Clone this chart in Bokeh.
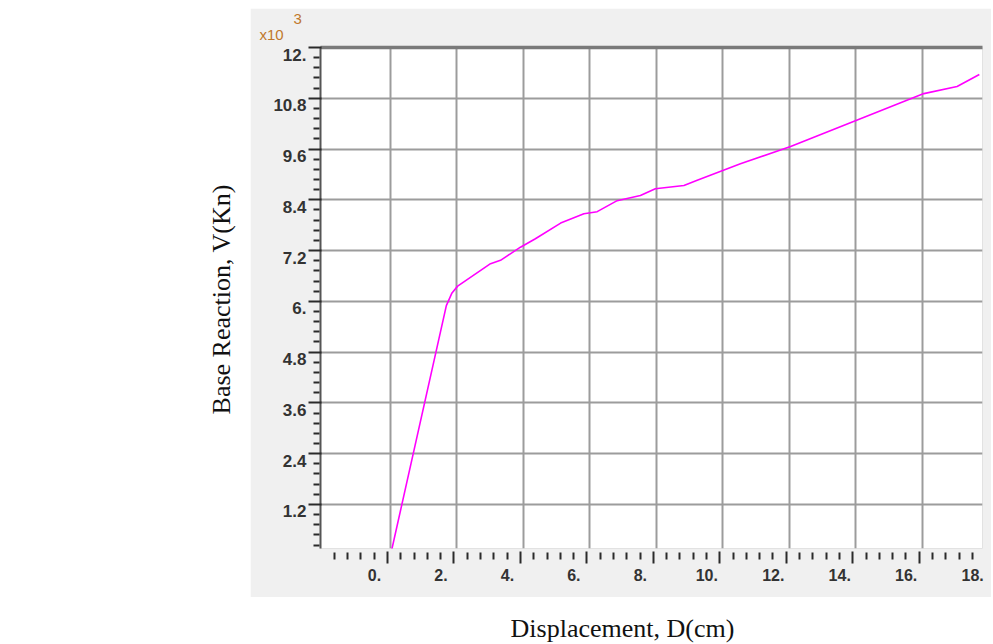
import math
from bokeh.plotting import figure
from bokeh.models import (Range1d, LinearAxis, FixedTicker, CustomJSTickFormatter,
                          Label, Grid, Title, Spacer)
from bokeh.layouts import row, column
from bokeh.embed import file_html
from bokeh.resources import INLINE

# ---------------- data ----------------
disp_cm = [0.0, 1.68, 1.85, 2.02, 3.01, 3.31, 3.91, 4.36, 5.12, 5.82, 6.22,
           6.82, 7.52, 7.97, 8.83, 9.23, 10.53, 12.04, 13.99, 16.05, 17.05, 17.72]
base_kn_x1e3 = [0.0, 5.90, 6.20, 6.36, 6.89, 6.97, 7.28, 7.48, 7.85, 8.07, 8.12,
                8.38, 8.50, 8.66, 8.74, 8.86, 9.25, 9.66, 10.27, 10.91, 11.08, 11.36]

x_ticks = [0, 2, 4, 6, 8, 10, 12, 14, 16, 18]
x_tick_labels = ["0.", "2.", "4.", "6.", "8.", "10.", "12.", "14.", "16.", "18."]
y_ticks = [1.2, 2.4, 3.6, 4.8, 6.0, 7.2, 8.4, 9.6, 10.8, 12.0]
y_tick_labels = ["1.2", "2.4", "3.6", "4.8", "6.", "7.2", "8.4", "9.6", "10.8", "12."]

x_title = "Displacement, D(cm)"
y_title = "Base Reaction, V(Kn)"
scale_text = "x10"
scale_exp = "3"

X_START, X_END = -2.107, 17.815
Y_START, Y_END = 0.159, 12.0
PX_PER_X = 33.23
PX_PER_Y = 42.31

x_minor = [round(m * 0.4, 2) for m in range(-4, 45) if m % 5 != 0]
y_minor = [round(k * 0.24, 2) for k in range(1, 50) if k % 5 != 0]

PANEL = "#f0f0f0"
GRID = "#9c9c9c"
TICK = "#2a2a2a"
LABEL_COL = "#333333"
SCALE_COL = "#c0782c"
SANS = "Liberation Sans"
SERIF = "Liberation Serif"

def fmt(tv, tl):
    return CustomJSTickFormatter(
        args=dict(tvals=tv, tlabs=tl),
        code="const i = tvals.findIndex(t => Math.abs(t - tick) < 1e-9);"
             "return i >= 0 ? tlabs[i] : '';")

def blank():
    return CustomJSTickFormatter(code="return '';")

# ---------------- main plot (grey panel) ----------------
p = figure(width=741, height=589,
           x_range=Range1d(X_START, X_END), y_range=Range1d(Y_START, Y_END),
           x_axis_type=None, y_axis_type=None,
           toolbar_location=None, output_backend="svg",
           min_border_left=70, min_border_right=9,
           min_border_top=39, min_border_bottom=49,
           background_fill_color="white", border_fill_color=PANEL,
           outline_line_color="#e2e2e2", outline_line_width=1)

d_tick = 3 / PX_PER_X
d_lab = 16 / PX_PER_X
d_ylab = 7 / PX_PER_Y
p.extra_x_ranges = {"xt": Range1d(X_START + d_tick, X_END + d_tick),
                    "xl": Range1d(X_START + d_lab, X_END + d_lab)}
p.extra_y_ranges = {"yl": Range1d(Y_START + d_ylab, Y_END + d_ylab)}

# grids
p.add_layout(Grid(dimension=0, ticker=FixedTicker(ticks=x_ticks),
                  grid_line_color=GRID, grid_line_width=2))
p.add_layout(Grid(dimension=1, ticker=FixedTicker(ticks=y_ticks),
                  grid_line_color=GRID, grid_line_width=2))

# curve
p.line(disp_cm, base_kn_x1e3, line_color="#ff00ff", line_width=1.6)

# left: ticks axis
ly = LinearAxis(ticker=FixedTicker(ticks=y_ticks, minor_ticks=y_minor),
                formatter=blank(),
                axis_line_color="#555555", axis_line_width=2,
                major_tick_in=1, major_tick_out=12,
                minor_tick_in=-1, minor_tick_out=7,
                major_tick_line_color=TICK, major_tick_line_width=2,
                minor_tick_line_color=TICK, minor_tick_line_width=2,
                major_label_text_font_size="1px", major_label_standoff=0)
p.add_layout(ly, "left")
# left: labels axis
lyl = LinearAxis(y_range_name="yl", ticker=FixedTicker(ticks=y_ticks),
                 formatter=fmt(y_ticks, y_tick_labels),
                 axis_line_color=None, major_tick_line_color=None,
                 minor_tick_line_color=None, major_tick_in=0, major_tick_out=0,
                 minor_tick_in=0, minor_tick_out=0, major_label_standoff=2,
                 major_label_text_font=SANS, major_label_text_font_size="17px",
                 major_label_text_font_style="bold",
                 major_label_text_color=LABEL_COL)
p.add_layout(lyl, "left")

# bottom: ticks axis
bx = LinearAxis(x_range_name="xt",
                ticker=FixedTicker(ticks=x_ticks, minor_ticks=x_minor),
                formatter=blank(), axis_line_color=None,
                major_tick_in=-3, major_tick_out=15,
                minor_tick_in=-4, minor_tick_out=11,
                major_tick_line_color=TICK, major_tick_line_width=2,
                minor_tick_line_color=TICK, minor_tick_line_width=2,
                major_label_text_font_size="1px", major_label_standoff=0)
p.add_layout(bx, "below")
# bottom: labels axis
bxl = LinearAxis(x_range_name="xl", ticker=FixedTicker(ticks=x_ticks),
                 formatter=fmt(x_ticks, x_tick_labels),
                 axis_line_color=None, major_tick_line_color=None,
                 minor_tick_line_color=None, major_tick_in=0, major_tick_out=0,
                 minor_tick_in=0, minor_tick_out=0, major_label_standoff=5,
                 major_label_text_font=SANS, major_label_text_font_size="16px",
                 major_label_text_font_style="bold",
                 major_label_text_color=LABEL_COL)
p.add_layout(bxl, "below")

# top: thick border line
top = LinearAxis(ticker=FixedTicker(ticks=[]), formatter=blank(),
                 axis_line_color="#7a7a7a", axis_line_width=3.5,
                 major_tick_line_color=None, minor_tick_line_color=None,
                 major_tick_in=0, major_tick_out=0, minor_tick_in=0, minor_tick_out=0,
                 major_label_text_font_size="1px", major_label_standoff=0)
p.add_layout(top, "above")

# x10^3 multiplier (as titles in the top border)
p.add_layout(Title(text=scale_text, align="left", offset=-61, standoff=10,
                   text_font=SANS, text_font_size="15px", text_font_style="normal",
                   text_color=SCALE_COL), "above")
p.add_layout(Title(text=scale_exp, align="left", offset=-27, standoff=-10,
                   text_font=SANS, text_font_size="15px", text_font_style="normal",
                   text_color=SCALE_COL), "above")

# ---------------- y title (outside panel) ----------------
yf = figure(width=250, height=589, x_range=Range1d(0, 250), y_range=Range1d(0, 589),
            x_axis_type=None, y_axis_type=None, toolbar_location=None,
            output_backend="svg", min_border=0, outline_line_color=None,
            background_fill_color="white", border_fill_color="white")
yf.add_layout(Label(x=221, y=293, angle=math.pi / 2, text=y_title,
                    text_font=SERIF, text_font_size="26px",
                    text_color="#111111", text_align="center",
                    text_baseline="middle"))

# ---------------- x title (outside panel) ----------------
xf = figure(width=991, height=47, x_range=Range1d(0, 991), y_range=Range1d(0, 47),
            x_axis_type=None, y_axis_type=None, toolbar_location=None,
            output_backend="svg", min_border=0, outline_line_color=None,
            background_fill_color="white", border_fill_color="white")
xf.add_layout(Label(x=622, y=16, text=x_title,
                    text_font=SERIF, text_font_size="26px",
                    text_color="#111111", text_align="center",
                    text_baseline="middle"))

layout = column(Spacer(width=991, height=8), row(yf, p), xf)
open("out.html", "w").write(file_html(layout, INLINE))
